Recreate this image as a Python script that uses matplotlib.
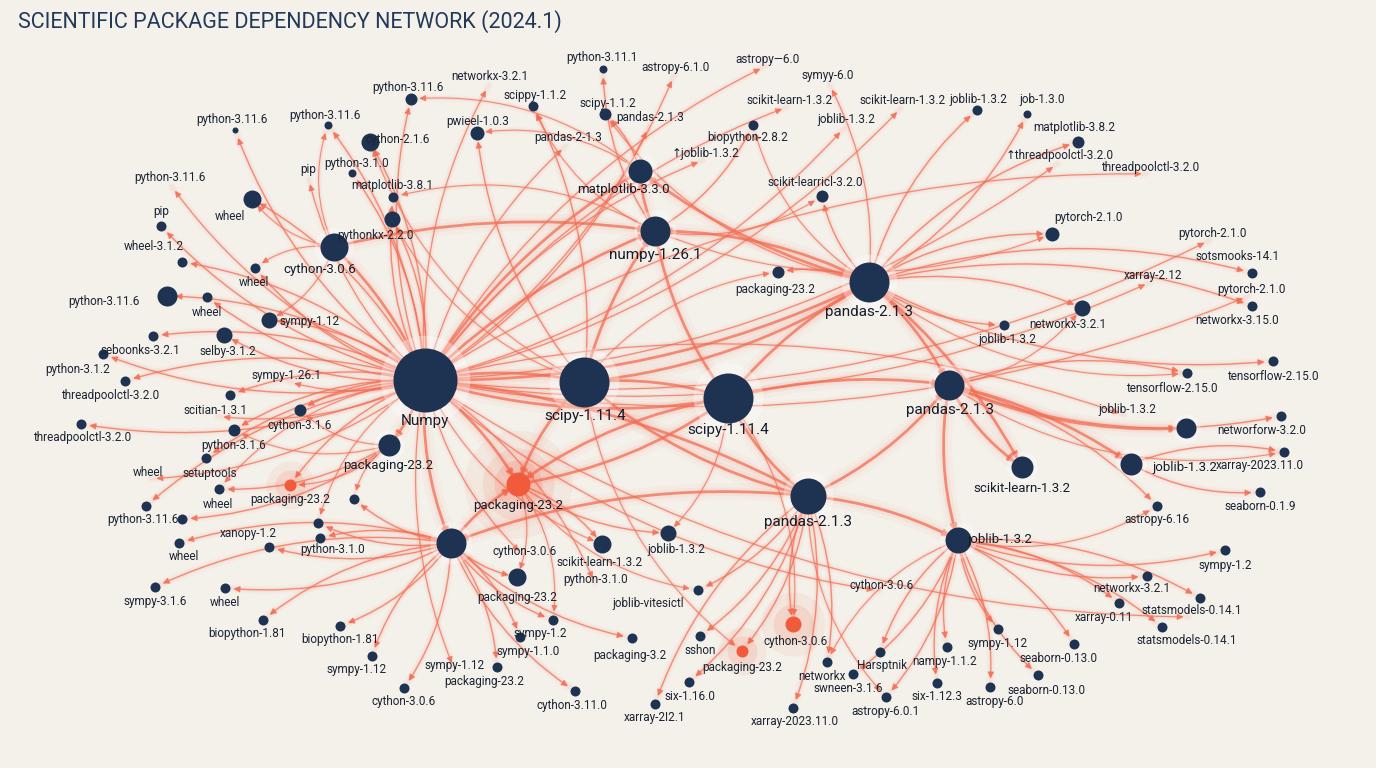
import matplotlib.pyplot as plt
from matplotlib.patches import FancyArrowPatch

plt.rcParams['font.family'] = ['Roboto', 'DejaVu Sans']

# hub nodes: label, x, y, radius(px), label x, label y, highlighted
hub_label = ["Numpy", "scipy-1.11.4", "scipy-1.11.4", "pandas-2.1.3", "pandas-2.1.3", "pandas-2.1.3",
             "numpy-1.26.1", "packaging-23.2", "joblib-1.3.2", "", "matplotlib-3.3.0", "cython-3.0.6",
             "scikit-learn-1.3.2", "joblib-1.3.2", "", "packaging-23.2"]
hub_x = [425, 584, 728, 869, 949, 808, 655, 518, 958, 451, 640, 334, 1022, 1131, 1186, 389]
hub_y = [380, 382, 398, 282, 385, 496, 231, 484, 540, 543, 171, 247, 467, 464, 428, 445]
hub_r = [32, 25, 25, 20, 15, 18, 15, 12, 13, 15, 12, 14, 11, 11, 10, 11]
hub_lx = [425, 585, 728, 869, 950, 808, 655, 518, 1000, 0, 623, 320, 1022, 1185, 0, 388]
hub_ly = [421, 416, 430, 312, 410, 522, 255, 506, 540, 0, 190, 270, 488, 468, 0, 466]
hub_hot = [0, 0, 0, 0, 0, 0, 0, 1, 0, 0, 0, 0, 0, 0, 0, 0]

hub_links = [(0, 1), (0, 2), (0, 7), (0, 9), (0, 6), (0, 3), (1, 2), (1, 3), (1, 6), (1, 7), (2, 3),
             (2, 5), (2, 4), (2, 7), (3, 4), (3, 6), (3, 10), (4, 12), (4, 13), (4, 8), (5, 8), (5, 9),
             (6, 10), (7, 2), (11, 0), (10, 0), (9, 7), (5, 4), (3, 12), (6, 2), (0, 15), (4, 14),
             (11, 6), (1, 5), (0, 5)]

# leaf nodes: label, x, y, radius, label x, label y, parent hub, second parent hub (-1 none), highlighted
leaves = [
    ("python-3.11.6", 235, 130, 3, 232, 120, 0, -1, 0),
    ("python-3.11.6", 328, 125, 4, 325, 116, 0, 11, 0),
    ("python-3.11.6", 411, 99, 6, 408, 88, 0, 10, 0),
    ("cython-2.1.6", 370, 142, 9, 398, 139, 0, 1, 0),
    ("pwieel-1.0.3", 477, 133, 7, 478, 121, 1, 10, 0),
    ("scippy-1.1.2", 533, 106, 5, 535, 96, 1, 6, 0),
    ("python-3.11.1", 603, 69, 4, 602, 58, 6, -1, 0),
    ("scipy-1.1.2", 605, 114, 6, 608, 103, 10, 3, 0),
    ("pandas-2-1.3", 0, 0, 0, 568, 138, 0, -1, 0),
    ("pandas-2.1.3", 0, 0, 0, 650, 118, 0, -1, 0),
    ("networkx-3.2.1", 0, 0, 0, 490, 77, 0, -1, 0),
    ("astropy-6.1.0", 0, 0, 0, 675, 67, 0, -1, 0),
    ("astropy—6.0", 0, 0, 0, 768, 59, 0, -1, 0),
    ("symyy-6.0", 834, 95, 0, 828, 76, 3, -1, 0),
    ("scikit-learn-1.3.2", 0, 0, 0, 790, 100, 0, -1, 0),
    ("scikit-learn-1.3.2", 0, 0, 0, 903, 100, 0, -1, 0),
    ("joblib-1.3.2", 977, 110, 5, 978, 100, 3, -1, 0),
    ("job-1.3.0", 1027, 114, 4, 1042, 100, 3, -1, 0),
    ("matplotlib-3.8.2", 1078, 142, 6, 1074, 128, 3, -1, 0),
    ("↑threadpoolctl-3.2.0", 0, 0, 0, 1060, 156, 0, -1, 0),
    ("threadpoolctl-3.2.0", 0, 0, 0, 1150, 168, 0, -1, 0),
    ("biopython-2.8.2", 753, 125, 5, 748, 137, 6, 3, 0),
    ("↑joblib-1.3.2", 0, 0, 0, 706, 153, 0, -1, 0),
    ("joblib-1.3.2", 0, 0, 0, 846, 120, 0, -1, 0),
    ("scikit-learricl-3.2.0", 822, 196, 6, 815, 183, 3, 6, 0),
    ("packaging-23.2", 778, 272, 6, 775, 290, 3, 1, 0),
    ("pip", 0, 0, 0, 308, 170, 0, -1, 0),
    ("python-3.1.0", 352, 173, 4, 357, 163, 0, -1, 0),
    ("matplotlib-3.8.1", 393, 197, 5, 392, 185, 0, 6, 0),
    ("pythonkx-2.2.0", 392, 219, 8, 375, 236, 0, 1, 0),
    ("python-3.11.6", 0, 0, 0, 170, 178, 0, -1, 0),
    ("wheel", 252, 199, 9, 230, 216, 0, 11, 0),
    ("pip", 161, 226, 5, 161, 212, 0, -1, 0),
    ("wheel-3.1.2", 182, 262, 5, 154, 247, 0, -1, 0),
    ("wheel", 255, 268, 5, 254, 282, 0, 11, 0),
    ("python-3.11.6", 167, 296, 10, 104, 302, 0, -1, 0),
    ("wheel", 207, 297, 5, 207, 312, 0, -1, 0),
    ("sympy-1.12", 269, 320, 8, 310, 322, 0, 11, 0),
    ("selby-3.1.2", 224, 335, 8, 228, 351, 0, -1, 0),
    ("seboonks-3.2.1", 153, 336, 5, 140, 351, 0, -1, 0),
    ("", 103, 354, 5, 0, 0, 0, -1, 0),
    ("python-3.1.2", 125, 381, 5, 78, 369, 0, -1, 0),
    ("sympy-1.26.1", 0, 0, 0, 286, 375, 0, -1, 0),
    ("threadpoolctl-3.2.0", 230, 395, 5, 110, 395, 0, -1, 0),
    ("scitian-1.3.1", 0, 0, 0, 215, 410, 0, -1, 0),
    ("cython-3.1.6", 300, 410, 6, 300, 426, 0, 15, 0),
    ("threadpoolctl-3.2.0", 81, 424, 5, 82, 438, 0, -1, 0),
    ("python-3.1.6", 234, 430, 6, 234, 445, 0, 15, 0),
    ("wheel", 0, 0, 0, 148, 473, 0, -1, 0),
    ("setuptools", 206, 458, 5, 210, 473, 0, -1, 0),
    ("wheel", 219, 489, 5, 218, 504, 15, 0, 0),
    ("packaging-23.2", 290, 485, 6, 290, 500, 0, 15, 1),
    ("", 354, 499, 5, 0, 0, 9, 15, 0),
    ("python-3.11.6", 146, 506, 5, 143, 520, 0, -1, 0),
    ("", 182, 519, 5, 0, 0, 15, -1, 0),
    ("wheel", 179, 543, 5, 184, 557, 9, -1, 0),
    ("xanopy-1.2", 318, 523, 5, 248, 533, 9, 0, 0),
    ("python-3.1.0", 320, 538, 5, 333, 549, 9, -1, 0),
    ("", 269, 547, 5, 0, 0, 9, -1, 0),
    ("sympy-3.1.6", 155, 587, 5, 155, 601, 9, -1, 0),
    ("wheel", 225, 588, 5, 225, 603, 9, -1, 0),
    ("biopython-1.81", 263, 620, 5, 247, 634, 9, -1, 0),
    ("biopython-1.81", 340, 626, 5, 340, 640, 9, -1, 0),
    ("sympy-1.12", 372, 656, 5, 357, 670, 9, -1, 0),
    ("cython-3.0.6", 404, 688, 5, 404, 702, 9, -1, 0),
    ("sympy-1.12", 0, 0, 0, 455, 665, 0, -1, 0),
    ("packaging-23.2", 497, 667, 5, 484, 681, 9, -1, 0),
    ("sympy-1.2", 553, 620, 5, 540, 634, 9, 7, 0),
    ("sympy-1.1.0", 520, 637, 5, 528, 652, 9, -1, 0),
    ("cython-3.0.6", 0, 0, 0, 525, 551, 0, -1, 0),
    ("scikit-learn-1.3.2", 602, 544, 9, 600, 563, 7, 0, 0),
    ("packaging-23.2", 517, 577, 9, 517, 597, 9, 7, 0),
    ("python-3.1.0", 0, 0, 0, 596, 580, 0, -1, 0),
    ("joblib-1.3.2", 668, 533, 8, 676, 550, 7, 2, 0),
    ("joblib-vitesictl", 698, 590, 5, 648, 603, 5, 7, 0),
    ("packaging-3.2", 632, 638, 5, 630, 655, 9, -1, 0),
    ("sshon", 700, 636, 5, 700, 651, 5, -1, 0),
    ("cython-3.11.0", 575, 691, 5, 572, 705, 9, -1, 0),
    ("six-1.16.0", 689, 682, 5, 690, 697, 5, -1, 0),
    ("xarray-2I2.1", 655, 704, 5, 655, 718, 5, -1, 0),
    ("xarray-2023.11.0", 793, 708, 5, 795, 722, 5, -1, 0),
    ("cython-3.0.6", 793, 624, 8, 796, 641, 5, 2, 1),
    ("packaging-23.2", 742, 651, 6, 742, 667, 5, 1, 1),
    ("cython-3.0.6", 0, 0, 0, 882, 585, 0, -1, 0),
    ("networkx", 827, 662, 5, 822, 676, 5, 8, 0),
    ("Harsptnik", 880, 652, 5, 882, 665, 8, -1, 0),
    ("swneen-3.1.6", 853, 674, 5, 848, 688, 8, -1, 0),
    ("nampy-1.1.2", 947, 647, 5, 945, 661, 8, -1, 0),
    ("astropy-6.0.1", 886, 697, 5, 886, 712, 8, 5, 0),
    ("six-1.12.3", 937, 683, 5, 937, 697, 8, -1, 0),
    ("astropy-6.0", 990, 687, 5, 995, 702, 8, -1, 0),
    ("sympy-1.12", 998, 629, 5, 998, 643, 8, -1, 0),
    ("seaborn-0.13.0", 1074, 644, 5, 1058, 659, 8, -1, 0),
    ("seaborn-0.13.0", 1038, 675, 5, 1047, 690, 8, -1, 0),
    ("statsmodels-0.14.1", 1162, 627, 5, 1187, 641, 8, -1, 0),
    ("statsmodels-0.14.1", 0, 0, 0, 1192, 611, 0, -1, 0),
    ("xarray-0.11", 1119, 603, 5, 1104, 617, 8, -1, 0),
    ("networkx-3.2.1", 1147, 576, 5, 1132, 589, 8, -1, 0),
    ("", 1200, 598, 5, 0, 0, 8, -1, 0),
    ("sympy-1.2", 1225, 550, 5, 1225, 565, 8, -1, 0),
    ("astropy-6.16", 1157, 506, 5, 1157, 520, 4, 8, 0),
    ("seaborn-0.1.9", 1260, 492, 5, 1260, 506, 13, -1, 0),
    ("xarray-2023.11.0", 1284, 452, 5, 1260, 466, 13, 4, 0),
    ("networforw-3.2.0", 1281, 416, 5, 1262, 430, 4, -1, 0),
    ("tensorflow-2.15.0", 1187, 373, 5, 1172, 388, 4, 3, 0),
    ("tensorflow-2.15.0", 1273, 361, 5, 1273, 376, 3, -1, 0),
    ("networkx-3.15.0", 1252, 306, 5, 1237, 321, 3, -1, 0),
    ("pytorch-2.1.0", 0, 0, 0, 1251, 289, 0, -1, 0),
    ("sotsmooks-14.1", 1252, 273, 5, 1238, 256, 3, -1, 0),
    ("xarray-2.12", 0, 0, 0, 1153, 275, 0, -1, 0),
    ("pytorch-2.1.0", 1052, 234, 7, 1088, 218, 3, 6, 0),
    ("pytorch-2.1.0", 0, 0, 0, 1212, 233, 0, -1, 0),
    ("networkx-3.2.1", 1082, 308, 8, 1068, 325, 3, 4, 0),
    ("joblib-1.3.2", 1004, 325, 5, 1007, 340, 3, -1, 0),
    ("joblib-1.3.2", 0, 0, 0, 1127, 410, 0, -1, 0),
]

navy = "#1e3352"
hot = "#f25a3c"
edge_col = "#f26d55"

fig = plt.figure(figsize=(13.76, 7.68), dpi=100, facecolor="#f4f1ea")
ax = fig.add_axes([0, 0, 1, 1])
ax.set_facecolor("#f4f1ea")
ax.set_xlim(0, 1376)
ax.set_ylim(768, 0)
ax.axis("off")


def link(x1, y1, x2, y2, w, rad):
    for lw, a in [(w * 6, 0.04), (w * 3, 0.07)]:
        ax.add_patch(FancyArrowPatch((x1, y1), (x2, y2), connectionstyle=f"arc3,rad={rad}",
                                     arrowstyle="-", color=edge_col, lw=lw, alpha=a, zorder=1))
    ax.add_patch(FancyArrowPatch((x1, y1), (x2, y2), connectionstyle=f"arc3,rad={rad}",
                                 arrowstyle="-|>", mutation_scale=9, color=edge_col, lw=w,
                                 alpha=0.75, shrinkA=4, shrinkB=6, zorder=2))


for k, (a, b) in enumerate(hub_links):
    link(hub_x[a], hub_y[a], hub_x[b], hub_y[b], 2.0, 0.12 if k % 2 else -0.1)

for k, (lab, x, y, r, lx, ly, p1, p2, h) in enumerate(leaves):
    if r == 0:
        # edge toward a floating label
        link(hub_x[p1], hub_y[p1], lx, ly + 6, 0.9, 0.15 if k % 2 else -0.15)
        continue
    link(hub_x[p1], hub_y[p1], x, y, 1.0, 0.15 if k % 2 else -0.15)
    if p2 >= 0:
        link(hub_x[p2], hub_y[p2], x, y, 0.8, -0.2 if k % 2 else 0.2)

px2pt = 72 / 100  # pixel radius -> points
for x, y, r, h in zip(hub_x, hub_y, hub_r, hub_hot):
    c = hot if h else navy
    if h:
        for s, a in [(4.5, 0.06), (3, 0.1), (2, 0.15)]:
            ax.scatter(x, y, s=(r * s * 2 * px2pt) ** 2, color=hot, alpha=a, lw=0, zorder=3)
    else:
        ax.scatter(x, y, s=(r * 2.8 * px2pt) ** 2, color="white", alpha=0.35, lw=0, zorder=3)
    ax.scatter(x, y, s=(r * 2 * px2pt) ** 2, color=c, lw=0, zorder=4)

for lab, x, y, r, lx, ly, p1, p2, h in leaves:
    if r > 0:
        c = hot if h else navy
        if h:
            for s, a in [(4, 0.07), (2.5, 0.12)]:
                ax.scatter(x, y, s=(r * s * 2 * px2pt) ** 2, color=hot, alpha=a, lw=0, zorder=3)
        ax.scatter(x, y, s=(r * 2 * px2pt) ** 2, color=c, lw=0, zorder=4)
    if lab:
        ax.text(lx, ly, lab, fontsize=8.5, color="#1b2433", ha="center", va="center", zorder=6)

for lab, lx, ly, r in zip(hub_label, hub_lx, hub_ly, hub_r):
    if lab:
        fs = 11 if r >= 15 else 9.5
        ax.text(lx, ly, lab, fontsize=fs, color="#141c2a", ha="center", va="center", zorder=6)

ax.text(18, 22, "SCIENTIFIC PACKAGE DEPENDENCY NETWORK (2024.1)", fontsize=15.5, color="#22395a",
        ha="left", va="center", zorder=6)

fig.savefig("out.png", dpi=100, facecolor=fig.get_facecolor())
